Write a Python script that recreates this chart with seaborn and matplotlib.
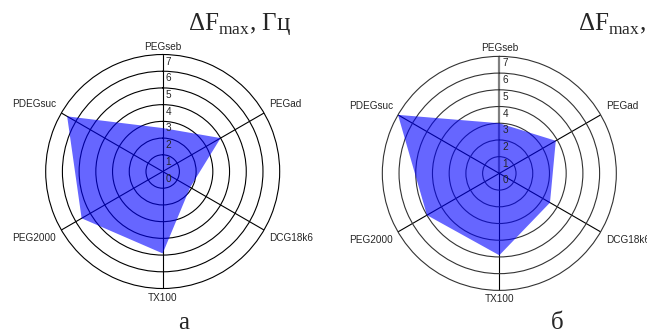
import numpy as np
import seaborn as sns
import matplotlib
matplotlib.use("Agg")
from matplotlib import pyplot as plt

# data
categories = ['PEGseb', 'PEGad', 'DCG18k6', 'TX100', 'PEG2000', 'PDEGsuc']
values_a = [2.6, 4.0, 1.9, 4.9, 5.6, 6.6]
values_b = [3.0, 3.9, 3.5, 4.9, 5.0, 7.0]
r_ticks = [0, 1, 2, 3, 4, 5, 6, 7]
panel_labels = ['а', 'б']
title_text = 'ΔF$_{\\mathrm{max}}$, Гц'

sns.set_style("white")
plt.rcParams['font.family'] = ['Liberation Sans', 'DejaVu Sans']
plt.rcParams['mathtext.fontset'] = 'custom'
plt.rcParams['mathtext.rm'] = 'Liberation Serif'

fig = plt.figure(figsize=(6.47, 3.33), dpi=100)

# label offsets (pixels) and alignment for each category
lab_style = [
    ((0, 3), 'center', 'bottom'),
    ((5, 4), 'left', 'bottom'),
    ((5, -3), 'left', 'top'),
    ((0, -4), 'center', 'top'),
    ((-5, -3), 'right', 'top'),
    ((-5, 4), 'right', 'bottom'),
]


def radar(ax, values, ring_col, axis_col, axis_lw):
    angles = np.linspace(0, 2 * np.pi, len(categories), endpoint=False)
    ax.set_theta_offset(np.pi / 2)
    ax.set_theta_direction(-1)
    ax.set_ylim(0, max(r_ticks))
    ax.set_yticks(r_ticks[1:-1])
    ax.set_yticklabels([])
    ax.set_xticks(angles)
    ax.set_xticklabels([])
    ax.grid(True, color=ring_col, lw=0.8)
    ax.xaxis.grid(True, color='black', lw=0.8)
    gl = ax.xaxis.get_gridlines()
    gl[0].set_color(axis_col)
    gl[0].set_linewidth(axis_lw)
    ax.spines['polar'].set_color(ring_col)
    ax.spines['polar'].set_linewidth(0.8)
    ax.set_facecolor('white')

    vals = list(values) + [values[0]]
    angs = list(angles) + [angles[0]]
    ax.fill(angs, vals, color='blue', alpha=0.6, lw=0, zorder=3)

    for k in r_ticks:
        ax.annotate(str(k), xy=(0, k), xytext=(3, -2), textcoords='offset pixels',
                    ha='left', va='top', fontsize=7.2, zorder=4)
    for ang, name, (off, ha, va) in zip(angles, categories, lab_style):
        ax.annotate(name, xy=(ang, max(r_ticks)), xytext=off, textcoords='offset pixels',
                    ha=ha, va=va, fontsize=7.2, annotation_clip=False)


ax1 = fig.add_axes([0.0706, 0.1336, 0.3617, 0.7027], projection='polar')
radar(ax1, values_a, 'black', 'black', 0.8)
ax2 = fig.add_axes([0.5909, 0.128, 0.3617, 0.7027], projection='polar')
radar(ax2, values_b, '#333333', '#808080', 1.6)

fig.text(188 / 647, 1 - 30 / 333, title_text, fontsize=18, family='Liberation Serif',
         ha='left', va='baseline')
fig.text(578 / 647, 1 - 30 / 333, title_text, fontsize=18, family='Liberation Serif',
         ha='left', va='baseline')
fig.text(184 / 647, 1 - 323 / 333, panel_labels[0], fontsize=18, family='Liberation Serif',
         ha='center', va='center')
fig.text(557 / 647, 1 - 323 / 333, panel_labels[1], fontsize=18, family='Liberation Serif',
         ha='center', va='center')

fig.savefig('out.png', dpi=100)
